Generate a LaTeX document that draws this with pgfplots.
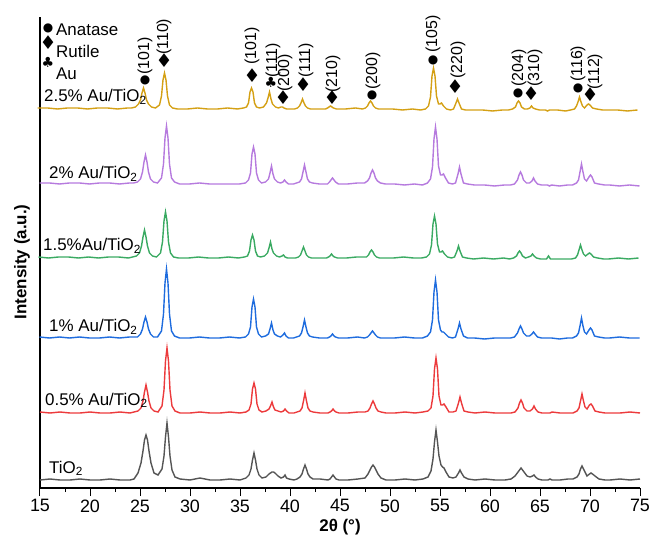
\documentclass[border=0pt]{standalone}
\usepackage{fontspec}
\setmainfont{Liberation Sans}
\newfontfamily\sym{DejaVu Sans}
\usepackage{pgfplots}
\pgfplotsset{compat=1.18}
\usepackage{pgfplotstable}
\definecolor{cgray}{RGB}{85,85,85}
\definecolor{cred}{RGB}{236,58,60}
\definecolor{cblue}{RGB}{30,108,222}
\definecolor{cgreen}{RGB}{58,170,98}
\definecolor{cpurple}{RGB}{182,122,222}
\definecolor{cgold}{RGB}{212,160,20}
\tikzset{cir/.style={inner sep=0, font=\sym\fontsize{12}{12}\selectfont},
         dia/.style={inner sep=0, font=\sym\fontsize{19}{19}\selectfont},
         clb/.style={inner sep=0, font=\sym\fontsize{14}{14}\selectfont},
         lab/.style={anchor=base west, inner sep=0, font=\fontsize{17}{17}\selectfont},
         hkl/.style={rotate=90, anchor=west, inner sep=0, font=\fontsize{16}{16}\selectfont}}

\pgfplotstableread{
x g r b gr p au
15 8 76 151 231 305 380
16 9 75 150 230 305 380
17 8 76 151 231 304 379
18 8 75 150 231 305 380
19 9 75 151 230 305 380
20 8 76 150 231 304 379
21 8 75 150 230 305 380
22 9 75 151 231 305 380
23 8 76 150 231 304 379
24 8 75 151 230 305 380
24.4 9 76 151 231 305 380
24.8 15 77 151 232 306 381
25.1 25 80 154 235 309 384
25.3 37 87 159 242 316 388
25.45 48 96 166 251 326 395
25.6 53 103 171 258 333 400
25.75 48 96 166 251 326 395
25.9 37 87 159 242 316 388
26.1 25 80 154 235 309 384
26.4 15 77 151 232 306 381
26.8 13 76 151 231 305 380
27.2 19 82 157 235 310 383
27.4 32 98 174 246 324 392
27.55 51 127 205 267 350 408
27.7 65 140 219 276 362 415
27.85 51 127 205 267 350 408
28.0 32 98 174 246 324 392
28.2 18 82 157 235 310 383
28.5 11 77 152 231 306 380
29.0 9 75 150 230 304 379
30 8 75 150 230 304 379
31 10 76 151 231 305 380
32 8 75 150 230 304 379
33 8 75 150 230 304 379
34 9 76 151 231 304 380
35 8 75 150 230 304 379
35.6 10 76 151 231 305 380
35.9 13 78 154 232 308 381
36.1 19 84 161 237 315 385
36.25 28 99 181 248 334 396
36.4 35 105 189 253 341 400
36.55 28 99 181 248 334 396
36.7 19 84 161 237 315 385
36.9 13 78 154 232 308 381
37.2 10 76 151 231 305 380
37.6 11 77 152 232 306 381
37.9 14 79 154 235 309 385
38.05 15 82 159 240 315 390
38.2 16 86 165 246 322 396
38.35 16 81 158 239 314 389
38.5 15 78 154 235 309 384
38.8 12 77 152 232 306 381
39.1 10 76 151 231 305 380
39.35 11 77 153 232 306 381
39.5 13 79 155 233 308 381
39.65 10 77 152 231 306 380
39.9 9 75 150 230 304 379
40.4 8 75 150 230 304 379
40.7 9 76 151 230 305 379
41.0 11 77 152 231 306 380
41.2 14 80 155 233 309 382
41.35 19 87 161 237 316 385
41.5 23 95 168 241 323 389
41.65 19 87 161 237 316 385
41.8 14 80 155 233 309 382
42.0 11 77 152 231 306 380
42.3 9 76 151 230 305 379
43.0 9 75 150 230 304 379
43.8 8 75 150 230 304 379
44.0 9 76 151 231 306 380
44.15 11 77 152 232 308 381
44.3 13 79 154 234 310 382
44.45 11 77 152 232 308 381
44.6 9 76 151 231 306 380
44.9 8 75 150 230 304 379
45.8 8 75 150 230 304 379
46.8 9 76 151 231 305 380
47.5 10 76 150 231 305 379
47.8 14 77 151 231 307 380
48.0 18 80 153 233 310 382
48.15 21 84 155 236 315 385
48.3 23 87 157 238 318 387
48.45 21 84 155 236 315 385
48.6 18 80 153 233 310 382
48.8 14 77 151 231 307 380
49.1 10 76 150 230 305 379
49.6 8 75 150 230 304 379
50.5 8 75 150 230 304 379
51.5 9 76 151 231 303 378
52.5 8 75 150 230 304 379
53.3 9 76 150 230 303 378
53.8 11 77 152 231 305 379
54.1 17 80 156 234 309 382
54.3 29 92 168 243 321 391
54.45 46 119 196 264 349 412
54.6 58 130 208 272 361 420
54.75 46 119 196 264 349 412
54.9 32 92 168 244 322 392
55.1 23 83 158 236 313 384
55.25 21 83 156 236 313 384
55.4 20 84 156 237 314 385
55.6 16 81 154 234 310 382
55.9 11 76 151 231 305 379
56.3 10 76 150 230 304 378
56.6 11 77 151 231 305 379
56.85 15 85 159 237 314 385
57.0 18 91 165 242 321 389
57.15 15 85 159 237 314 385
57.4 11 77 152 231 305 379
57.8 9 76 150 230 304 378
58.5 8 75 150 229 303 378
59.5 9 76 149 230 303 378
60.5 8 75 150 229 302 377
61.5 8 75 150 230 303 378
62.1 9 75 150 229 303 378
62.5 12 76 151 230 304 379
62.8 16 80 155 232 308 381
62.95 18 85 159 235 313 385
63.1 20 88 162 237 316 387
63.25 18 85 159 235 313 385
63.4 16 80 155 232 308 381
63.7 12 77 152 230 305 379
64.0 11 77 152 231 305 379
64.25 12 79 154 232 307 380
64.4 13 82 156 234 310 382
64.55 11 79 154 232 307 380
64.8 9 76 151 230 304 379
65.2 8 75 150 229 303 378
65.8 8 75 150 229 303 378
66.0 9 75 150 232 302 377
66.2 8 76 150 229 303 378
67.0 8 75 149 229 302 378
67.8 9 75 150 229 303 377
68.3 9 75 150 229 303 378
68.7 11 77 152 230 305 379
68.9 14 80 155 233 308 382
69.05 19 87 162 238 316 386
69.2 22 94 170 243 324 391
69.35 19 87 162 238 316 386
69.5 16 81 156 234 309 382
69.7 12 79 154 232 307 380
69.95 14 83 158 234 311 383
70.1 15 84 160 235 313 384
70.25 14 82 158 234 311 383
70.5 12 77 152 231 305 380
70.9 9 76 151 230 304 379
71.5 8 75 150 229 303 378
72 8 75 150 229 303 378
73 9 75 151 230 302 378
74 8 76 150 229 303 377
75 9 75 150 230 302 378
}\xrd

\begin{document}
\begin{tikzpicture}
\useasboundingbox (-40bp,-55bp) rectangle (610bp,488bp);
\begin{axis}[
  scale only axis, width=600bp, height=471bp,
  at={(0,0)}, anchor=south west,
  xmin=15, xmax=75, ymin=0, ymax=471,
  clip=false,
  axis x line*=bottom, axis y line*=left,
  axis line style={line width=1.2bp, black},
  xtick={15,20,...,75}, minor x tick num=1,
  ytick=\empty,
  tick align=outside,
  major tick length=8bp, minor tick length=4bp,
  every tick/.style={black, line width=1bp},
  /pgf/number format/assume math mode=true,
  xticklabel style={font=\fontsize{18}{18}\selectfont},
  xlabel={\bfseries 2θ (°)},
  xlabel style={font=\fontsize{17}{17}\selectfont, at={(axis description cs:0.5,0)}, anchor=base, yshift=-43bp},
  ylabel={\bfseries Intensity (a.u.)},
  ylabel style={font=\fontsize{17}{17}\selectfont, at={(axis description cs:-0.03,0.48)}, anchor=center},
]
\addplot[cgray, line width=1.4bp] table[x=x,y=g]{\xrd};
\addplot[cred, line width=1.4bp] table[x=x,y=r]{\xrd};
\addplot[cblue, line width=1.4bp] table[x expr=\thisrow{x}-0.05,y=b]{\xrd};
\addplot[cgreen, line width=1.4bp] table[x expr=\thisrow{x}-0.15,y=gr]{\xrd};
\addplot[cpurple, line width=1.4bp] table[x expr=\thisrow{x}-0.05,y=p]{\xrd};
\addplot[cgold, line width=1.4bp] table[x expr=\thisrow{x}-0.25,y=au]{\xrd};

% sample labels
\node[lab] at (axis cs:15.9,15) {TiO\textsubscript{2}};
\node[lab] at (axis cs:15.5,83) {0.5\% Au/TiO\textsubscript{2}};
\node[lab] at (axis cs:15.9,156) {1\% Au/TiO\textsubscript{2}};
\node[lab] at (axis cs:15.3,237) {1.5\%Au/TiO\textsubscript{2}};
\node[lab] at (axis cs:15.9,309) {2\% Au/TiO\textsubscript{2}};
\node[lab] at (axis cs:15.4,386) {2.5\% Au/TiO\textsubscript{2}};
\node[lab] at (axis cs:16.6,452) {Anatase};
\node[lab] at (axis cs:16.6,430) {Rutile};
\node[lab] at (axis cs:16.6,408) {Au};

% symbols
\node[cir] at (axis cs:15.8,460) {●};
\node[dia] at (axis cs:15.8,445) {♦};
\node[clb] at (axis cs:15.8,426) {♣};
\node[cir] at (axis cs:25.5,408) {●};
\node[dia] at (axis cs:27.4,427) {♦};
\node[dia] at (axis cs:36.2,412) {♦};
\node[clb] at (axis cs:38.1,406) {♣};
\node[dia] at (axis cs:39.3,390) {♦};
\node[dia] at (axis cs:41.3,403) {♦};
\node[dia] at (axis cs:44.2,390) {♦};
\node[cir] at (axis cs:48.2,393) {●};
\node[cir] at (axis cs:54.3,428) {●};
\node[dia] at (axis cs:56.5,401) {♦};
\node[cir] at (axis cs:62.8,395) {●};
\node[dia] at (axis cs:64.1,394) {♦};
\node[cir] at (axis cs:68.8,400) {●};
\node[dia] at (axis cs:70.0,393) {♦};

% hkl labels
\node[hkl] at (axis cs:25.5,413) {(101)};
\node[hkl] at (axis cs:27.4,433) {(110)};
\node[hkl] at (axis cs:36.2,423) {(101)};
\node[hkl] at (axis cs:38.3,410) {(111)};
\node[hkl] at (axis cs:39.5,396) {(200)};
\node[hkl] at (axis cs:41.6,410) {(111)};
\node[hkl] at (axis cs:44.3,395) {(210)};
\node[hkl] at (axis cs:48.3,398) {(200)};
\node[hkl] at (axis cs:54.3,435) {(105)};
\node[hkl] at (axis cs:56.8,409) {(220)};
\node[hkl] at (axis cs:62.9,401) {(204)};
\node[hkl] at (axis cs:64.5,401) {(310)};
\node[hkl] at (axis cs:68.8,406) {(116)};
\node[hkl] at (axis cs:70.5,398) {(112)};
\end{axis}
\end{tikzpicture}
\end{document}
